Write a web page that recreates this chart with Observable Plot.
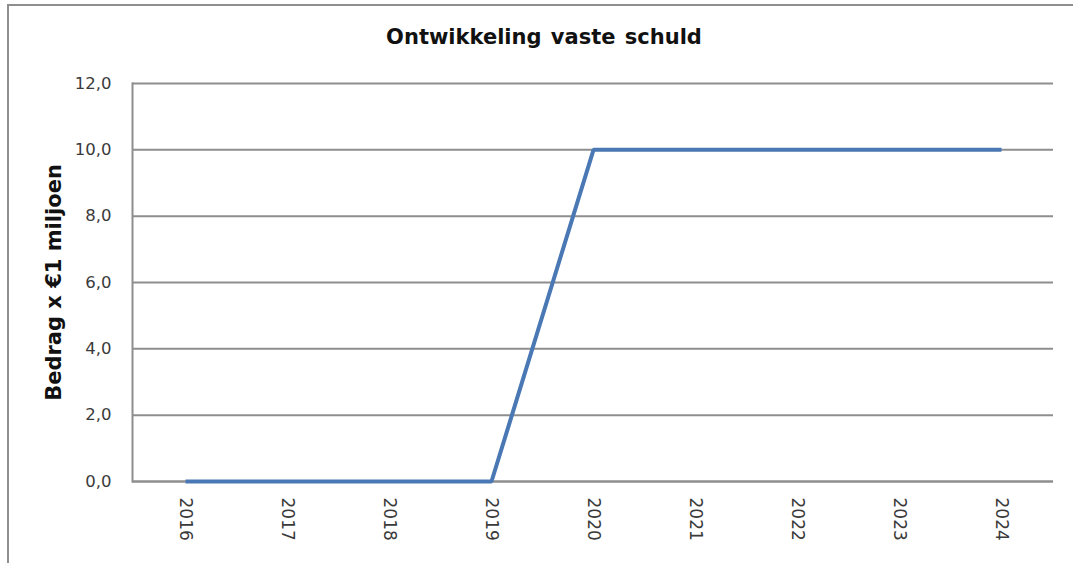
<!DOCTYPE html>
<html>
<head>
<meta charset="utf-8">
<script src="https://cdn.jsdelivr.net/npm/d3@7"></script>
<script src="https://cdn.jsdelivr.net/npm/@observablehq/plot@0.6"></script>
<style>
  html, body { margin: 0; padding: 0; background: #fff; overflow: hidden; }
  #wrap { position: relative; width: 1073px; height: 563px; font-family: "DejaVu Sans", Verdana, sans-serif; }
  #frame { position: absolute; left: 7px; top: 4px; right: -10px; bottom: -10px;
           border-left: 2px solid #8e8e8e; border-top: 2px solid #8e8e8e; }
  #title { position: absolute; left: 15px; right: 0; top: 0; height: 60px; line-height: 74px;
           text-align: center; font-size: 21px; font-weight: bold; color: #111; word-spacing: 2px; }
  #chart { position: absolute; left: 0; top: 60px; }
</style>
</head>
<body>
<div id="wrap">
  <div id="frame"></div>
  <div id="title"></div>
  <div id="chart"></div>
</div>
<script>
// Vaste schuld per jaar (bedrag x €1 miljoen)
const chartTitle = "Ontwikkeling vaste schuld";
const yLabel = "Bedrag x €1 miljoen";
const years = ["2016", "2017", "2018", "2019", "2020", "2021", "2022", "2023", "2024"];
const values = [0, 0, 0, 0, 10, 10, 10, 10, 10];
const yTicks = [0, 2, 4, 6, 8, 10, 12];

const data = years.map((year, i) => ({year, value: values[i]}));
const fmt = d => d.toFixed(1).replace(".", ",");

document.getElementById("title").textContent = chartTitle;

const gridColor = "#8e8e8e";
const textColor = "#3a3a3a";

const plot = Plot.plot({
  width: 1073,
  height: 503,
  marginTop: 23,
  marginBottom: 82,
  marginLeft: 132,
  marginRight: 20,
  style: {fontFamily: "DejaVu Sans, Verdana, sans-serif", background: "transparent", overflow: "visible"},
  x: {type: "point", domain: years, padding: 0.5},
  y: {domain: [0, 12]},
  marks: [
    Plot.gridY(yTicks, {stroke: gridColor, strokeOpacity: 1, strokeWidth: 2}),
    Plot.frame({anchor: "left", stroke: gridColor, strokeWidth: 2}),
    Plot.ruleY([0], {stroke: gridColor, strokeWidth: 2}),
    Plot.axisY(yTicks, {tickSize: 0, tickPadding: 21, tickFormat: fmt, fontSize: 16.5, fill: textColor, label: null}),
    Plot.axisX({tickSize: 0, tickPadding: 16, tickRotate: 90, fontSize: 17, fill: textColor, label: null}),
    Plot.text([yLabel], {frameAnchor: "left", dx: -78, rotate: -90, textAnchor: "middle", lineAnchor: "middle",
                         fontSize: 21, fontWeight: "bold", fill: "#111"}),
    Plot.line(data, {x: "year", y: "value", stroke: "#4a78b4", strokeWidth: 4,
                     strokeLinecap: "butt", strokeLinejoin: "miter"})
  ]
});
document.getElementById("chart").appendChild(plot);
</script>
</body>
</html>
